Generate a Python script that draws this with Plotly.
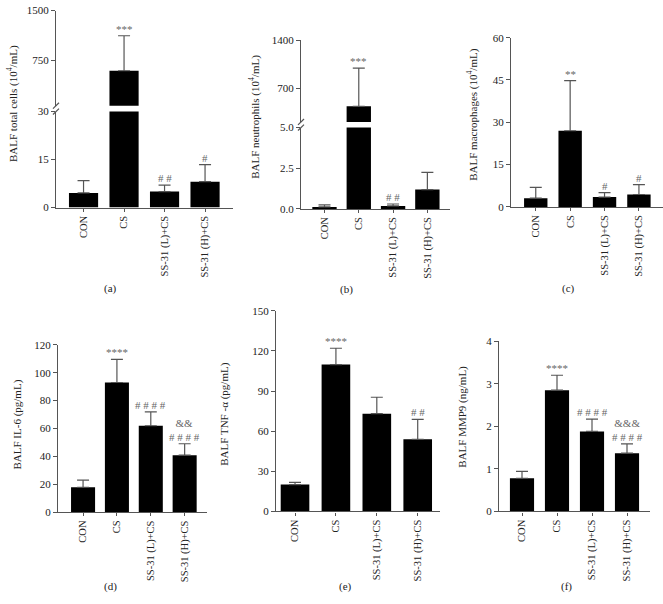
import plotly.graph_objects as go

# ---------------- data ----------------
groups = ["CON", "CS", "SS-31 (L)+CS", "SS-31 (H)+CS"]

total_cells = [4.6, 590, 5.0, 8.1]
total_cells_err = [3.8, 530, 2.0, 5.3]
total_cells_sig = ["", "***", "# #", "#"]

neutrophils = [0.12, 444, 0.18, 1.19]
neutrophils_err = [0.13, 554, 0.12, 1.05]
neutrophils_sig = ["", "***", "# #", ""]

macrophages = [3.1, 27.0, 3.5, 4.4]
macrophages_err = [3.8, 17.8, 1.6, 3.5]
macrophages_sig = ["", "**", "#", "#"]

il6 = [17.9, 93.0, 62.0, 40.9]
il6_err = [5.1, 16.6, 10.0, 8.2]
il6_sig = ["", "****", "# # # #", "&&<br># # # #"]

tnf = [20.1, 109.8, 73.1, 53.9]
tnf_err = [1.7, 12.2, 12.3, 14.9]
tnf_sig = ["", "****", "", "# #"]

mmp9 = [0.78, 2.85, 1.88, 1.37]
mmp9_err = [0.16, 0.35, 0.29, 0.22]
mmp9_sig = ["", "****", "# # # #", "&&&<br># # # #"]

# ---------------- layout helpers ----------------
W, H = 663, 604
FONT = "Liberation Serif, Times New Roman, serif"
AXC = "#555555"
TXT = "#222222"
SIGC = "#666666"


def fx(px):
    return px / W


def fy(py):
    return 1 - py / H


panels = [
    dict(values=total_cells, errors=total_cells_err, sig=total_cells_sig,
         xpx=(56, 233), xr=(-0.68, 3.69), bw=0.72,
         segs=[dict(ypx=(107.7, 205.7), rng=(0, 30), ticks=[0, 15, 30], labels=["0", "15", "30"]),
               dict(ypx=(4.7, 101.7), rng=(62, 1500), ticks=[750, 1500], labels=["750", "1500"])],
         title="BALF total cells (10<sup>4</sup>/mL)", tpos=(12, 100),
         caption="(a)", cpos=(111, 288)),
    dict(values=neutrophils, errors=neutrophils_err, sig=neutrophils_sig,
         xpx=(301, 450), xr=(-0.685, 3.66), bw=0.71,
         segs=[dict(ypx=(124, 207), rng=(0, 5), ticks=[0, 2.5, 5], labels=["0.0", "2.5", "5.0"]),
               dict(ypx=(35, 118.3), rng=(217, 1400), ticks=[700, 1400], labels=["700", "1400"])],
         title="BALF neutrophils (10<sup>4</sup>/mL)", tpos=(255, 113),
         caption="(b)", cpos=(346, 289)),
    dict(values=macrophages, errors=macrophages_err, sig=macrophages_sig,
         xpx=(511, 663), xr=(-0.72, 3.70), bw=0.68,
         segs=[dict(ypx=(32.3, 205), rng=(0, 60), ticks=[0, 15, 30, 45, 60], labels=None)],
         title="BALF macrophages (10<sup>4</sup>/mL)", tpos=(473, 111),
         caption="(c)", cpos=(568, 288)),
    dict(values=il6, errors=il6_err, sig=il6_sig,
         xpx=(58, 207), xr=(-0.74, 3.66), bw=0.71,
         segs=[dict(ypx=(345.7, 516.5), rng=(0, 120), ticks=[0, 20, 40, 60, 80, 100, 120], labels=None)],
         title="BALF IL-6 (pg/mL)", tpos=(18, 427),
         caption="(d)", cpos=(110, 592)),
    dict(values=tnf, errors=tnf_err, sig=tnf_sig,
         xpx=(276, 440), xr=(-0.465, 3.545), bw=0.70,
         segs=[dict(ypx=(311, 515.7), rng=(0, 150), ticks=[0, 30, 60, 90, 120, 150], labels=None)],
         title="BALF TNF -α (pg/mL)", tpos=(225, 417),
         caption="(e)", cpos=(345, 592)),
    dict(values=mmp9, errors=mmp9_err, sig=mmp9_sig,
         xpx=(499, 650), xr=(-0.657, 3.657), bw=0.69,
         segs=[dict(ypx=(342, 515.7), rng=(0, 4), ticks=[0, 1, 2, 3, 4], labels=None)],
         title="BALF MMP9 (ng/mL)", tpos=(463, 419),
         caption="(f)", cpos=(566, 592)),
]

fig = go.Figure()
layout = {}
annotations = []
shapes = []
ax_i = 0

for p in panels:
    x0, x1 = p["xpx"]
    for si, seg in enumerate(p["segs"]):
        ax_i += 1
        xn = "x" if ax_i == 1 else f"x{ax_i}"
        yn = "y" if ax_i == 1 else f"y{ax_i}"
        xk = "xaxis" if ax_i == 1 else f"xaxis{ax_i}"
        yk = "yaxis" if ax_i == 1 else f"yaxis{ax_i}"
        yt, yb = seg["ypx"]

        fig.add_trace(go.Bar(
            x=groups, y=p["values"], width=p["bw"],
            marker=dict(color="black", line=dict(width=0)),
            error_y=dict(type="data", symmetric=False, array=p["errors"],
                         arrayminus=[0] * len(p["values"]),
                         color=AXC, thickness=1.2, width=6),
            xaxis=xn, yaxis=yn, showlegend=False, hoverinfo="skip",
        ))

        base_x = dict(domain=[fx(x0), fx(x1)], anchor=yn, type="category",
                      range=list(p["xr"]), showgrid=False, zeroline=False,
                      fixedrange=True)
        if si == 0:
            base_x.update(visible=True, showline=True, linecolor=AXC, linewidth=1.2,
                          ticks="outside", ticklen=3, tickcolor=AXC, tickwidth=1.2,
                          tickangle=-90, tickfont=dict(family=FONT, size=10.5, color=TXT))
        else:
            base_x.update(visible=False)
        layout[xk] = base_x

        labels = seg["labels"] if seg["labels"] else [str(t) for t in seg["ticks"]]
        layout[yk] = dict(domain=[fy(yb), fy(yt)], anchor=xn, range=list(seg["rng"]),
                          tickvals=seg["ticks"], ticktext=labels,
                          showline=True, linecolor=AXC, linewidth=1.2,
                          ticks="outside", ticklen=4, tickcolor=AXC, tickwidth=1.2,
                          showgrid=False, zeroline=False, fixedrange=True,
                          tickfont=dict(family=FONT, size=11, color=TXT))

        # significance marks in the segment where the error bar top falls
        for g, v, e, s in zip(groups, p["values"], p["errors"], p["sig"]):
            top = v + e
            if s and seg["rng"][0] <= top <= seg["rng"][1]:
                annotations.append(dict(x=g, y=top, xref=xn, yref=yn, text=s,
                                        showarrow=False, yanchor="bottom", yshift=-1,
                                        font=dict(family=FONT, size=11, color=SIGC)))

        # break marks
        if len(p["segs"]) > 1:
            ypos = yt if si == 0 else yb
            shapes.append(dict(type="line", xref="paper", yref="paper",
                               x0=fx(x0 - 3), y0=fy(ypos + 3), x1=fx(x0 + 3), y1=fy(ypos - 3),
                               line=dict(color=AXC, width=1.2)))

    annotations.append(dict(x=fx(p["tpos"][0]), y=fy(p["tpos"][1]), xref="paper", yref="paper",
                            text=p["title"], textangle=-90, showarrow=False,
                            xanchor="center", yanchor="middle",
                            font=dict(family=FONT, size=11, color=TXT)))
    annotations.append(dict(x=fx(p["cpos"][0]), y=fy(p["cpos"][1]), xref="paper", yref="paper",
                            text=p["caption"], showarrow=False,
                            xanchor="center", yanchor="middle",
                            font=dict(family=FONT, size=11, color=TXT)))

fig.update_layout(
    width=W, height=H, margin=dict(l=0, r=0, t=0, b=0),
    paper_bgcolor="white", plot_bgcolor="white",
    showlegend=False, bargap=0.3,
    annotations=annotations, shapes=shapes,
    font=dict(family=FONT, size=11, color=TXT),
    **layout,
)

fig.write_html("out.html", config={"displayModeBar": False},
               post_script="document.body.style.margin='0';document.body.style.overflow='hidden';")
